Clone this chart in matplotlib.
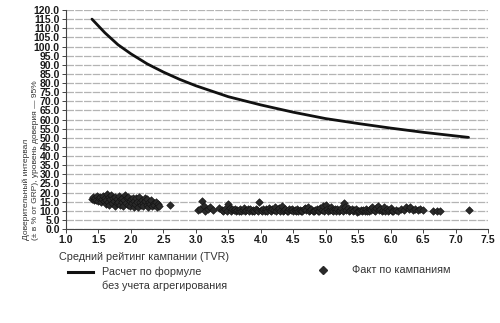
import matplotlib
matplotlib.use("Agg")
import matplotlib.pyplot as plt

plt.rcParams["font.family"] = ["Liberation Sans", "DejaVu Sans"]

# Расчетная кривая (без учета агрегирования)
calc_tvr = [1.4, 1.6, 1.8, 2.0, 2.25, 2.5, 2.75, 3.0, 3.5, 4.0, 4.5, 5.0, 5.5, 6.0, 6.5, 7.0, 7.2]
calc_ci = [115.0, 107.5, 101.0, 96.0, 90.5, 86.0, 82.0, 78.5, 72.5, 68.0, 64.0, 60.5, 57.8, 55.3, 53.0, 51.0, 50.2]

# Фактические кампании
fact_tvr = [
    1.40, 1.41, 1.43, 1.45, 1.46, 1.48, 1.50, 1.51, 1.53, 1.54, 1.55, 1.57, 1.58, 1.60, 1.61, 1.62,
    1.63, 1.65, 1.66, 1.67, 1.68, 1.70, 1.71, 1.72, 1.74, 1.75, 1.76, 1.78, 1.79, 1.80, 1.82, 1.83,
    1.84, 1.86, 1.87, 1.88, 1.90, 1.91, 1.92, 1.94, 1.95, 1.96, 1.98, 1.99, 2.00, 2.01, 2.03, 2.04,
    2.05, 2.07, 2.08, 2.10, 2.11, 2.12, 2.14, 2.15, 2.17, 2.18, 2.19, 2.21, 2.22, 2.24, 2.25, 2.27,
    2.28, 2.30, 2.31, 2.33, 2.35, 2.36, 2.38, 2.40, 2.42, 2.44, 2.60,
    3.03, 3.06, 3.10, 3.12, 3.14, 3.18, 3.22, 3.26, 3.35, 3.40, 3.42, 3.45, 3.48, 3.50, 3.52, 3.54,
    3.56, 3.58, 3.60, 3.62, 3.64, 3.66, 3.68, 3.70, 3.72, 3.74, 3.76, 3.78, 3.80, 3.82, 3.84, 3.86,
    3.88, 3.90, 3.92, 3.94, 3.96, 3.98, 4.00, 4.02, 4.04, 4.06, 4.08, 4.10, 4.12, 4.14, 4.16, 4.18,
    4.20, 4.22, 4.24, 4.26, 4.28, 4.30, 4.32, 4.34, 4.36, 4.38, 4.40, 4.42, 4.44, 4.46, 4.48, 4.50,
    4.52, 4.54, 4.56, 4.58, 4.60, 4.62, 4.64, 4.66, 4.68, 4.70, 4.72, 4.74, 4.76, 4.78, 4.80, 4.82,
    4.84, 4.86, 4.88, 4.90, 4.92, 4.94, 4.96, 4.98, 5.00, 5.02, 5.04, 5.06, 5.08, 5.10, 5.12, 5.14,
    5.16, 5.18, 5.20, 5.22, 5.24, 5.26, 5.28, 5.30, 5.32, 5.34, 5.36, 5.38, 5.40, 5.42, 5.44, 5.46,
    5.48, 5.50, 5.52, 5.54, 5.56, 5.58, 5.60, 5.62, 5.64, 5.66, 5.68, 5.70, 5.72, 5.74, 5.76, 5.78,
    5.80, 5.82, 5.84, 5.86, 5.88, 5.90, 5.92, 5.94, 5.96, 5.98, 6.00, 6.02, 6.04, 6.08, 6.12, 6.16,
    6.20, 6.24, 6.28, 6.30, 6.34, 6.38, 6.42, 6.46, 6.50, 6.66, 6.72, 6.76, 7.20,
]
fact_ci = [
    16.5, 17.5, 15.8, 17.0, 16.0, 18.0, 15.2, 16.8, 17.6, 14.6, 16.2, 18.3, 15.5, 17.0, 13.8, 16.0,
    19.0, 15.0, 17.8, 13.2, 16.4, 18.6, 14.5, 16.9, 15.6, 12.8, 17.5, 14.0, 16.2, 15.0, 18.0, 13.4,
    16.6, 14.8, 17.2, 12.6, 15.8, 18.8, 14.2, 16.8, 13.0, 17.8, 15.2, 12.4, 16.4, 14.0, 17.0, 12.2,
    15.4, 13.6, 16.8, 14.6, 12.0, 17.4, 15.0, 13.2, 16.0, 14.2, 12.4, 17.2, 15.4, 13.4, 16.2, 12.2,
    14.8, 13.6, 15.8, 12.6, 14.4, 13.0, 15.0, 12.0, 13.8, 12.8, 13.0,
    10.2, 11.0, 15.5, 12.6, 10.0, 10.8, 12.2, 10.4, 11.4, 10.6, 9.6, 11.0, 10.0, 13.6, 11.6, 9.8,
    10.8, 10.2, 11.2, 9.6, 10.6, 10.0, 11.0, 9.8, 10.4, 11.4, 9.6, 10.2, 10.8, 9.8, 11.0, 10.0,
    10.6, 9.6, 11.2, 10.2, 9.8, 14.6, 10.6, 9.6, 11.0, 10.0, 10.8, 9.8, 11.6, 10.2, 9.6, 11.0,
    10.4, 12.0, 9.8, 10.8, 11.4, 10.0, 12.4, 9.6, 10.6, 11.2, 10.0, 9.8, 10.8, 10.2, 11.0, 9.6,
    10.4, 10.0, 11.2, 9.8, 10.6, 10.0, 9.6, 10.8, 11.4, 10.2, 12.2, 9.8, 10.6, 11.0, 10.0, 9.6,
    10.4, 11.2, 10.0, 9.8, 11.6, 10.4, 12.6, 10.0, 13.0, 11.0, 9.6, 10.6, 11.8, 10.2, 9.8, 10.8,
    10.0, 11.0, 9.6, 10.4, 11.4, 10.0, 14.2, 12.0, 10.6, 11.6, 9.8, 10.4, 11.0, 9.6, 10.2, 10.8,
    9.4, 10.0, 9.6, 10.6, 9.8, 10.2, 9.6, 10.8, 10.0, 9.8, 11.0, 10.2, 12.0, 10.6, 9.8, 11.6,
    12.4, 10.4, 11.2, 9.8, 10.6, 11.8, 10.0, 11.0, 9.6, 10.4, 11.4, 10.0, 9.8, 10.6, 10.0, 11.2,
    10.4, 11.8, 10.8, 12.0, 10.2, 11.2, 10.4, 11.0, 10.6, 9.6, 9.8, 9.6, 10.2,
]

x_ticks = [1.0, 1.5, 2.0, 2.5, 3.0, 3.5, 4.0, 4.5, 5.0, 5.5, 6.0, 6.5, 7.0, 7.5]
y_ticks = [i * 5.0 for i in range(25)]

fig = plt.figure(figsize=(5.0, 3.23), dpi=100)
ax = fig.add_axes([0.132, 0.291, 0.844, 0.678])

ax.set_xlim(1.0, 7.5)
ax.set_ylim(0, 120)
ax.set_xticks(x_ticks)
ax.set_yticks(y_ticks)
ax.set_xticklabels([f"{t:.1f}" for t in x_ticks])
ax.set_yticklabels([f"{t:.1f}" for t in y_ticks])

# Горизонтальная сетка
ax.yaxis.grid(True, color="#b4b4b4", linewidth=0.9, linestyle=(0, (6, 1)))
ax.set_axisbelow(True)

for side in ("top", "right"):
    ax.spines[side].set_visible(False)
for side in ("left", "bottom"):
    ax.spines[side].set_color("#444444")
    ax.spines[side].set_linewidth(0.8)

ax.tick_params(axis="both", length=3, width=0.7, color="#444444",
               labelsize=7.5, pad=1.5, labelcolor="#1a1a1a")
for lbl in ax.get_xticklabels() + ax.get_yticklabels():
    lbl.set_fontweight("bold")

ax.scatter(fact_tvr, fact_ci, marker="D", s=15, color="#2a2a2a",
           edgecolors="#111111", linewidths=0.4, zorder=3)
ax.plot(calc_tvr, calc_ci, color="#111111", linewidth=2.0,
        solid_capstyle="round", zorder=4)

# Подписи осей
fig.text(0.062, 0.257, "Доверительный интервал\n(± в % от GRP), уровень доверия — 95%",
         rotation=90, ha="center", va="bottom", multialignment="left",
         fontsize=6.0, color="#333333", linespacing=1.45)
fig.text(0.118, 0.205, "Средний рейтинг кампании (TVR)", ha="left", va="center",
         fontsize=7.8, color="#333333")

# Легенда
fig.add_artist(plt.Line2D([0.136, 0.186], [0.158, 0.158], color="#111111",
                          linewidth=2.2, transform=fig.transFigure))
fig.text(0.205, 0.176, "Расчет по формуле\nбез учета агрегирования", ha="left",
         va="top", fontsize=7.8, color="#333333", linespacing=1.45)
fig.add_artist(plt.Line2D([0.646], [0.165], marker="D", markersize=4.5,
                          color="#2a2a2a", transform=fig.transFigure))
fig.text(0.703, 0.165, "Факт по кампаниям", ha="left", va="center",
         fontsize=7.8, color="#333333")

fig.savefig("out.png", dpi=100)
